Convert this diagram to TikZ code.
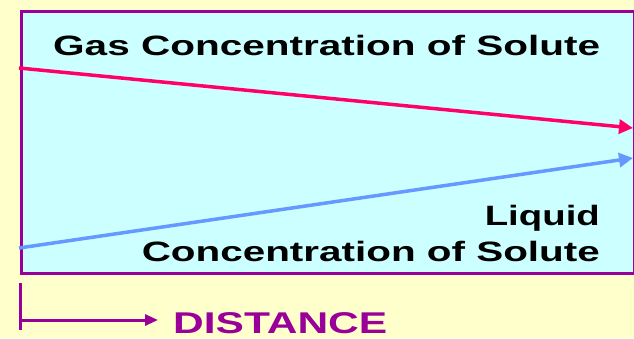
\documentclass[tikz,border=0pt]{standalone}
\usepackage{fontspec}
\usepackage{graphicx}
\setmainfont{Liberation Sans}
\usetikzlibrary{arrows.meta}
\definecolor{bgy}{HTML}{FFFFCC}
\definecolor{boxc}{HTML}{CCFFFF}
\definecolor{purp}{HTML}{990099}
\definecolor{redl}{HTML}{FF0066}
\definecolor{bluel}{HTML}{6699FF}
\newcommand{\fitw}[2]{\resizebox{#1}{\height}{#2}}
\begin{document}
\begin{tikzpicture}[x=1pt,y=-1pt,
  lbl/.style={font=\bfseries\fontsize{28}{30}\selectfont, inner sep=0pt, text=black},
  conc/.style={line width=3.5pt, -{Triangle[length=14pt,width=14pt]}},
  axis/.style={purp, line width=3pt}]
\useasboundingbox[fill=bgy] (0,0) rectangle (634,338);
\node[draw=purp, line width=3pt, fill=boxc, minimum width=613pt, minimum height=262pt, anchor=north west, inner sep=0pt] (box) at (19.5,10) {};
\coordinate (g0) at (19,68);
\coordinate (g1) at (633,128);
\coordinate (l0) at (19,248);
\coordinate (l1) at (633,158);
\draw[conc, redl] (g0) -- (g1);
\draw[conc, bluel] (l0) -- (l1);
\node[lbl, anchor=base west] (gas) at (53,55) {\fitw{547pt}{Gas Concentration of Solute}};
\node[lbl, anchor=base east] (liq) at (600,225) {\fitw{115pt}{Liquid}};
\node[lbl, anchor=base east] (conc2) at (600,261) {\fitw{458pt}{Concentration of Solute}};
\coordinate (a0) at (20,283);
\coordinate (a1) at (20,330);
\coordinate (ac) at (20,320);
\coordinate (ae) at (158,320);
\draw[axis] (a0) -- (a1);
\draw[axis, -{Triangle[length=13pt,width=11pt]}] (ac) -- (ae);
\node[lbl, text=purp, anchor=base west, font=\bfseries\fontsize{30}{32}\selectfont] (dist) at (173,333) {\fitw{214pt}{DISTANCE}};
\end{tikzpicture}
\end{document}
